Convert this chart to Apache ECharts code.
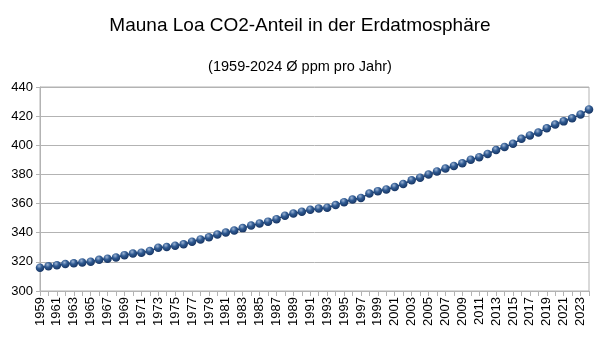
<!DOCTYPE html>
<html>
<head>
<meta charset="utf-8">
<script src="https://cdn.jsdelivr.net/npm/echarts@6/dist/echarts.min.js"></script>
<style>
  html, body { margin: 0; padding: 0; background: #ffffff; }
  #chart { width: 600px; height: 343px; }
</style>
</head>
<body>
<div id="chart"></div>
<script>
// Mauna Loa annual mean CO2 (ppm), 1959–2024
const years = [
  1959, 1960, 1961, 1962, 1963, 1964, 1965, 1966, 1967, 1968, 1969,
  1970, 1971, 1972, 1973, 1974, 1975, 1976, 1977, 1978, 1979,
  1980, 1981, 1982, 1983, 1984, 1985, 1986, 1987, 1988, 1989,
  1990, 1991, 1992, 1993, 1994, 1995, 1996, 1997, 1998, 1999,
  2000, 2001, 2002, 2003, 2004, 2005, 2006, 2007, 2008, 2009,
  2010, 2011, 2012, 2013, 2014, 2015, 2016, 2017, 2018, 2019,
  2020, 2021, 2022, 2023, 2024
];
const co2 = [
  315.98, 316.91, 317.64, 318.45, 318.99, 319.62, 320.04, 321.37, 322.18, 323.05, 324.62,
  325.68, 326.32, 327.46, 329.68, 330.19, 331.13, 332.03, 333.84, 335.41, 336.84,
  338.76, 340.12, 341.48, 343.15, 344.87, 346.35, 347.61, 349.31, 351.69, 353.20,
  354.45, 355.70, 356.54, 357.21, 358.96, 360.97, 362.74, 363.88, 366.84, 368.54,
  369.71, 371.32, 373.45, 375.98, 377.70, 379.98, 382.09, 384.02, 385.83, 387.64,
  390.10, 391.85, 394.06, 396.74, 398.81, 401.01, 404.41, 406.76, 408.72, 411.65,
  414.21, 416.41, 418.53, 421.08, 424.61
];
const yTicks = [300, 320, 340, 360, 380, 400, 420, 440];

const chart = echarts.init(document.getElementById('chart'), null, { renderer: 'canvas' });
const font = 'Liberation Sans, Arial, sans-serif';
const gridColor = '#b3b3b3';

chart.setOption({
  backgroundColor: '#ffffff',
  animation: false,
  title: [
    {
      text: 'Mauna Loa CO2-Anteil in der Erdatmosphäre',
      left: 'center', top: 11,
      textStyle: { fontFamily: font, fontSize: 19, fontWeight: 'normal', color: '#000000' }
    },
    {
      text: '(1959-2024 Ø ppm pro Jahr)',
      left: 'center', top: 54,
      textStyle: { fontFamily: font, fontSize: 14.5, fontWeight: 'normal', color: '#000000' }
    }
  ],
  // plot frame: the right edge is drawn as a thin gray border
  grid: {
    left: 40, right: 11, top: 87, bottom: 52, containLabel: false,
    show: true, borderColor: gridColor, borderWidth: 1, backgroundColor: 'transparent'
  },
  xAxis: {
    type: 'category',
    data: years.map(String),
    boundaryGap: false,
    axisLine: { lineStyle: { color: gridColor, width: 1 } },
    axisTick: { show: true, interval: 0, length: 5, lineStyle: { color: gridColor } },
    axisLabel: {
      interval: 1, rotate: 90, margin: 6,
      fontFamily: font, fontSize: 13, color: '#000000'
    },
    splitLine: { show: false }
  },
  yAxis: {
    type: 'value',
    min: yTicks[0], max: yTicks[yTicks.length - 1], interval: 20,
    axisLine: { show: true, lineStyle: { color: gridColor } },
    axisTick: { show: true, length: 4, lineStyle: { color: gridColor } },
    axisLabel: { fontFamily: font, fontSize: 13, color: '#000000', margin: 7 },
    splitLine: { show: true, lineStyle: { color: gridColor, width: 1 } }
  },
  series: [{
    type: 'line',
    data: co2,
    symbol: 'circle',
    symbolSize: 8.5,
    showSymbol: true,
    showAllSymbol: true,
    clip: false,
    lineStyle: { color: '#1c3a66', width: 1.5 },
    itemStyle: {
      color: new echarts.graphic.RadialGradient(0.4, 0.3, 0.7, [
        { offset: 0, color: '#9fb6d6' },
        { offset: 0.45, color: '#2f5a92' },
        { offset: 1, color: '#173563' }
      ]),
      borderWidth: 0
    }
  }]
});
</script>
</body>
</html>
